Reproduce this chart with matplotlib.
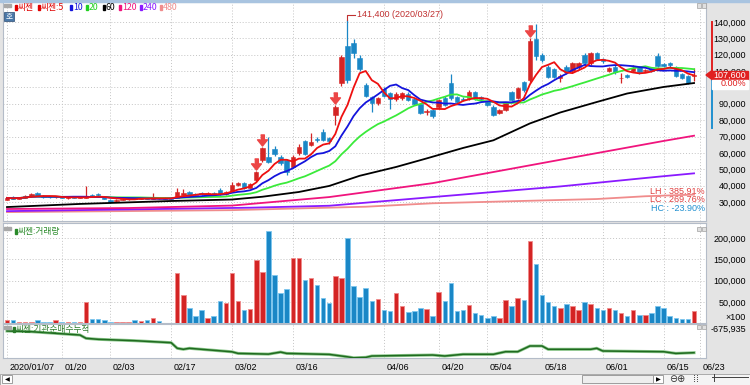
import numpy as np
import pandas as pd
import matplotlib
matplotlib.use('Agg')
import matplotlib.pyplot as plt
from matplotlib.patches import Rectangle, Polygon
from matplotlib.transforms import ScaledTranslation

W, H = 750, 385

# x axis: trading day index 0 = 2020/01/07
tick_idx = [0, 9, 17, 27, 37, 47, 62, 71, 79, 88, 98, 108, 114]
tick_lbl = ['2020/01/07', '01/20', '02/03', '02/17', '03/02', '03/16', '04/06',
            '04/20', '05/04', '05/18', '06/01', '06/15', '06/23']

opens = [31500, 33000, 32000, 32500, 33500, 35400, 33500, 33000, 32800, 33200,
         32500, 32900, 32600, 32600, 34000, 34800, 33500, 31500, 30400, 31200,
         32000, 32300, 32000, 32200, 31900, 32600, 32300, 32500, 32500, 34500,
         36000, 35000, 35200, 34200, 35500, 37500, 34800, 36500, 40500, 41500,
         38800, 43400, 55600, 57500, 62400, 57500, 55600, 51400, 59900, 67300,
         64800, 68500, 72800, 69100, 83200, 102700, 125300, 127200, 118000, 101500,
         94200, 90500, 99000, 96600, 92900, 93500, 96000, 92900, 89900, 84700,
         86200, 88000, 93500, 102700, 94200, 93000, 93500, 97200, 94200, 91100,
         88000, 84400, 86200, 97200, 93500, 103300, 104600, 129600, 119800, 112500,
         111300, 106000, 112500, 110000, 112500, 119800, 114900, 121000, 117400, 110000,
         112500, 105500, 107600, 110000, 112500, 110300, 111300, 119200, 114300, 114900,
         112500, 108200, 107000, 106800]
highs = [33000, 33500, 33200, 34000, 35500, 35800, 34000, 33500, 33600, 33500,
         33200, 33300, 33100, 40000, 34600, 35400, 33800, 31800, 31800, 32400,
         32600, 32800, 32500, 32600, 35500, 33000, 32800, 33000, 38500, 38000,
         36500, 35500, 35800, 35800, 36000, 38500, 36500, 42000, 42500, 42000,
         41500, 49000, 63500, 69700, 64500, 59000, 56000, 58500, 65500, 68000,
         72200, 69500, 74500, 69500, 89000, 120000, 141400, 129600, 120000, 103000,
         95000, 94000, 100000, 97500, 97000, 97500, 97000, 93500, 90500, 87000,
         87000, 93000, 94500, 108200, 95000, 94000, 98500, 98000, 95000, 92000,
         89000, 87000, 91000, 98000, 100500, 104000, 130000, 139000, 121000, 113500,
         112000, 108000, 113500, 115500, 115500, 121000, 121500, 121500, 118000, 112500,
         113500, 109000, 108500, 114000, 113000, 111500, 112000, 121000, 115000, 115500,
         113000, 109000, 107500, 112000]
lows = [31000, 31800, 31800, 32200, 33200, 33500, 32500, 32400, 32500, 32200,
        32000, 32300, 32200, 32400, 33000, 33600, 31600, 29500, 30200, 31000,
        31500, 31800, 31600, 31700, 31800, 32000, 31900, 31800, 32300, 34000,
        33800, 33800, 34200, 34000, 34600, 34200, 34500, 36200, 40000, 38000,
        38500, 42500, 54500, 53800, 58000, 52500, 46500, 50500, 59000, 58500,
        64000, 66500, 67000, 65500, 77000, 101000, 103000, 118000, 110000, 94000,
        85000, 89500, 94000, 86800, 92000, 92500, 91500, 89000, 83500, 83000,
        81500, 87000, 88500, 92500, 90000, 91500, 92500, 92500, 92000, 88500,
        82500, 83500, 85500, 91500, 93000, 97500, 103500, 117000, 115500, 105500,
        105500, 103300, 108500, 109000, 111500, 114000, 114000, 116500, 115000, 109500,
        108500, 103000, 106000, 109500, 108500, 109500, 109500, 112500, 112500, 112800,
        106500, 105000, 102000, 104000]
closes = [32500, 32000, 32800, 33600, 35000, 33800, 33000, 32800, 33200, 32500,
          32900, 32600, 32800, 33400, 33300, 34000, 32000, 30200, 31500, 32000,
          32300, 32000, 32200, 31900, 32600, 32300, 32100, 32000, 36000, 35300,
          34200, 34300, 34600, 35500, 34900, 34800, 36200, 40400, 41500, 38600,
          41000, 48300, 63000, 54500, 59300, 53800, 48300, 57500, 63600, 59300,
          66700, 67900, 67900, 67300, 88000, 118600, 104600, 121000, 111300, 94800,
          90500, 93500, 94800, 92900, 96000, 96600, 92300, 89900, 84400, 85300,
          82500, 92300, 89300, 93500, 91100, 92500, 97200, 93500, 92900, 89300,
          83200, 86200, 90500, 92300, 99700, 98400, 128400, 119200, 116800, 106400,
          106400, 106700, 109400, 114900, 114900, 114900, 121000, 117400, 116200, 111900,
          109400, 106000, 106400, 111900, 109400, 110900, 110000, 113100, 113100, 113700,
          107000, 105800, 102700, 107600]
# volume (x100 shares)
volume = [7000, 7000, 4000, 3000, 3000, 7000, 3000, 3000, 7000, 3000,
          3000, 3000, 3000, 50000, 10000, 9000, 8000, 4000, 3000, 3000,
          3000, 7000, 5000, 8000, 13000, 5000, 1000, 1000, 118000, 66000,
          37000, 18000, 32000, 13000, 18000, 53000, 47000, 118000, 53000, 32000,
          34000, 148000, 120000, 216000, 112000, 70000, 80000, 152000, 152000, 102000,
          106000, 89000, 59000, 47000, 110000, 105000, 201000, 87000, 62000, 83000,
          52000, 58000, 30000, 28000, 72000, 41000, 26000, 28000, 37000, 34000,
          18000, 73000, 52000, 94000, 28000, 30000, 44000, 25000, 19000, 13000,
          17000, 13000, 55000, 40000, 60000, 55000, 192000, 138000, 66000, 50000,
          40000, 35000, 45000, 40000, 30000, 50000, 45000, 35000, 30000, 35000,
          30000, 25000, 18000, 30000, 20000, 20000, 25000, 40000, 37000, 16000,
          12000, 9000, 11000, 28000]

# long moving averages (need history before the window), read at a few days
ma60_idx = [0, 12, 27, 37, 42, 48, 53, 58, 64, 69, 75, 80, 86, 91, 97, 102, 108, 113]
ma60_val = [26900, 28800, 30600, 31500, 33200, 36100, 39800, 46000, 51400, 56600,
            63000, 67700, 78000, 84700, 91100, 96300, 100300, 102700]
ma120_idx = [0, 20, 37, 53, 70, 91, 108, 113]
ma120_val = [25700, 26300, 27800, 33000, 41500, 55800, 67300, 70500]
ma240_idx = [0, 40, 53, 70, 91, 107, 113]
ma240_val = [24400, 26500, 27700, 33000, 39500, 45400, 47500]
ma480_idx = [0, 37, 59, 70, 97, 105, 113]
ma480_val = [23800, 25000, 27100, 29200, 31800, 33500, 34500]

# institutional net buying, cumulative
cum_idx = [0, 4, 12, 13, 15, 21, 24, 27, 28, 29, 30, 37, 38, 43, 45, 46, 53, 56, 57,
           59, 60, 70, 72, 75, 80, 82, 84, 86, 88, 89, 96, 97, 98, 108, 110, 113]
cum_val = [0, -21000, -125000, -228000, -259000, -302000, -333000, -364000, -538000,
           -570000, -539000, -648000, -698000, -720000, -657000, -698000, -729000,
           -804000, -835000, -822000, -779000, -748000, -779000, -726000, -726000,
           -645000, -645000, -467000, -467000, -570000, -570000, -539000, -623000,
           -645000, -698000, -675935]

signal_idx = [41, 42, 54, 86]
hi_idx, hi_val, hi_date = 56, 141400, '2020/03/27'
last_price = 107600

# ---------------------------------------------------------------
NUM = 'Liberation Sans'
NS = 6.5
KR = ['Noto Sans CJK KR', 'DejaVu Sans']

RED = '#d42424'
BLUE = '#1a87c6'
BG = '#e4e4e4'
GRID = '#c4c4c4'

o = np.array(opens); c = np.array(closes)
hh = np.array(highs); ll = np.array(lows)
idx = np.arange(len(o))
up = c >= o
col = np.where(up, RED, BLUE)
ser = pd.Series(closes, dtype=float)
ma5 = ser.rolling(5, min_periods=1).mean()
ma10 = ser.rolling(10, min_periods=1).mean()
ma20 = ser.rolling(20, min_periods=1).mean()

fig = plt.figure(figsize=(W / 100, H / 100), dpi=100)
fig.patch.set_facecolor(BG)


def box(x0, y0, x1, y1):
    return [x0 / W, 1 - y1 / H, (x1 - x0) / W, (y1 - y0) / H]


def ftext(x, y, s, **kw):
    fig.text(x / W, 1 - y / H, s, **kw)


def frect(x0, y0, x1, y1, **kw):
    fig.patches.append(Rectangle((x0 / W, 1 - y1 / H), (x1 - x0) / W, (y1 - y0) / H,
                                 transform=fig.transFigure, **kw))


X0 = (3 - 7) / 6.08
X1 = (706 - 7) / 6.08

ax = fig.add_axes(box(3, 2, 706, 221))
axv = fig.add_axes(box(3, 223, 706, 323.3))
axc = fig.add_axes(box(3, 324, 706, 358))

for a in (ax, axv, axc):
    a.set_facecolor('white')
    a.set_xlim(X0, X1)
    a.set_xticks(tick_idx)
    a.grid(True, ls=(0, (1, 2)), color=GRID, lw=0.7)
    a.set_axisbelow(True)
    for s in a.spines.values():
        s.set_color('#b4bcc8')
        s.set_linewidth(0.8)
    a.tick_params(length=0)

# ---- price panel
ax.set_ylim(18371, 152224)
pt = list(range(30000, 140001, 10000))
ax.set_yticks(pt)
ax.yaxis.tick_right()
ax.tick_params(axis='y', pad=28.8, labelsize=NS)
# 100,000 sits under the change-rate box on the original
ax.set_yticklabels(['' if v == 100000 else f'{v:,}' for v in pt], fontfamily=NUM)
for t in ax.get_yticklabels():
    t.set_ha('right')
ax.set_xticklabels([])

ax.vlines(idx, ll, hh, colors=col, lw=0.9, zorder=2)
body = np.maximum(np.abs(c - o), 350)
ax.bar(idx, body, bottom=np.minimum(o, c), width=0.72, color=col, edgecolor=col, lw=0.4, zorder=3)

ax.plot(ma480_idx, ma480_val, color='#f08c8c', lw=1.3, zorder=4)
ax.plot(ma240_idx, ma240_val, color='#8a1aff', lw=1.3, zorder=4)
ax.plot(ma120_idx, ma120_val, color='#f0147d', lw=1.3, zorder=4)
ax.plot(ma60_idx, ma60_val, color='black', lw=1.3, zorder=4)
ax.plot(idx, ma20, color='#3aea3a', lw=1.3, zorder=4)
ax.plot(idx, ma10, color='#1414dc', lw=1.3, zorder=4)
ax.plot(idx, ma5, color='#ee1010', lw=1.3, zorder=4)

# signal arrows
arrow = [(-0.3, 0.9), (0.3, 0.9), (0.3, 0.1), (0.8, 0.1), (0, -0.9), (-0.8, 0.1), (-0.3, 0.1)]
for i in signal_idx:
    ax.plot(i, highs[i] + 4500, marker=arrow, ms=8, color='#ec4646', mec='#ec4646', zorder=5)

# highest price mark
ax.plot([hi_idx, hi_idx, hi_idx + 1.3], [hi_val, hi_val + 3000, hi_val + 3000],
        color='#c03030', lw=0.8, zorder=5)
ax.text(hi_idx + 1.5, hi_val + 3000, f'{hi_val:,} ({hi_date})', color='#c03030',
        fontsize=NS, fontfamily=NUM, va='center', ha='left')

ax.text(114.8, 36700, 'LH : 385.91%', color='#e04040', fontsize=NS, fontfamily=NUM, ha='right', va='center')
ax.text(114.8, 31500, 'LC : 269.76%', color='#e04040', fontsize=NS, fontfamily=NUM, ha='right', va='center')
ax.text(114.8, 26300, 'HC : -23.90%', color='#2090d0', fontsize=NS, fontfamily=NUM, ha='right', va='center')

# ---- volume panel
axv.set_ylim(0, 235000)
vt = [50000, 100000, 150000, 200000]
axv.set_yticks(vt)
axv.yaxis.tick_right()
axv.tick_params(axis='y', pad=28.8, labelsize=NS)
axv.set_yticklabels([f'{v:,}' for v in vt], fontfamily=NUM)
for t in axv.get_yticklabels():
    t.set_ha('right')
axv.set_xticklabels([])
light = np.where(up, '#f08a8a', '#7cc6ee')
axv.bar(idx, volume, width=0.74, color=col, edgecolor=light, lw=0.6, zorder=3)

# ---- cumulative panel
axc.set_ylim(-841000, 218000)
axc.set_yticks([])
axc.plot(cum_idx, cum_val, color='#8cc88c', lw=2.2, zorder=3)
axc.plot(cum_idx, cum_val, color='#1f6a1f', lw=1.1, zorder=4)
axc.set_xticklabels(tick_lbl, fontfamily=NUM, fontsize=NS, ha='left')
axc.tick_params(axis='x', pad=3.4)
off = ScaledTranslation(2.5 / 100, 0, fig.dpi_scale_trans)
for t in axc.get_xticklabels():
    t.set_transform(t.get_transform() + off)

# ---- frame decorations
frect(0, 0, 750, 2, color='#a9c4e0', zorder=0)
# bottom tool bar
frect(0, 374, 750, 385, facecolor='#f4f4f4', edgecolor='#a0a0a0', lw=0.6)
frect(2, 375, 12, 383, facecolor='white', edgecolor='#909090', lw=0.6)
ftext(7, 379.5, '◀', fontsize=4.5, ha='center', va='center', color='black')
frect(582, 375, 653, 383, facecolor='#eeeeee', edgecolor='#909090', lw=0.6)
frect(653, 375, 663, 383, facecolor='white', edgecolor='#909090', lw=0.6)
ftext(658, 379.5, '▶', fontsize=4.5, ha='center', va='center', color='black')
ftext(677, 379.5, '⊖⊕', fontsize=7, ha='center', va='center', color='#303030')
ftext(696, 379.5, '⁞⁞', fontsize=7, ha='center', va='center', color='#303030')
fig.lines.append(plt.Line2D([712 / W, 748 / W], [1 - 377 / H] * 2, transform=fig.transFigure,
                            color='#404040', lw=0.7))
fig.lines.append(plt.Line2D([714 / W, 714 / W], [1 - 374 / H, 1 - 381 / H], transform=fig.transFigure,
                            color='#404040', lw=0.7))

# panel title rows
for yy in (5, 228, 327):
    frect(4, yy - 1.5, 11, yy + 2, color='#a8a8a8')
for yy in (5, 228, 326):
    for xx in (697, 702):
        frect(xx, yy - 1.5, xx + 4, yy + 2.5, facecolor='#e0e0e0', edgecolor='#a0a0a0', lw=0.5)

legend = [(15, '씨젠', '#e00000'), (38, '씨젠:5', '#e00000'),
          (70, '10', '#1414dc'), (86, '20', '#20d020'),
          (103, '60', 'black'), (119, '120', '#f0147d'),
          (140, '240', '#8a1aff'), (160, '480', '#f08c8c')]
for xx, s, tc in legend:
    frect(xx, 5, xx + 1.8, 10, color=tc)
    ftext(xx + 3, 7.8, s, fontsize=6.3, family=KR, color=tc, va='center', ha='left')

frect(4, 12, 14, 21, facecolor='#4a78a8', edgecolor='#2a4a70', lw=0.5)
ftext(9, 16.5, '호', fontsize=5.5, family=KR, color='white', ha='center', va='center')

frect(15, 229, 16.8, 234, color='#2a8a2a')
ftext(18, 231.5, '씨젠:거래량', fontsize=6.3, family=KR, color='#2a8a2a', va='center')
frect(13, 327, 14.8, 332, color='#2a7a2a')
ftext(16, 329.5, '씨젠:기관순매수누적', fontsize=6.3, family=KR, color='#2a7a2a', va='center')

# right scale extras
ftext(746, 317, '×100', fontsize=NS, fontfamily=NUM, ha='right', va='center')
ftext(746, 329.5, '-675,935', fontsize=NS, fontfamily=NUM, ha='right', va='center')

# period range bar and current price tag
xr = (712 - 7) / 6.08
ax.plot([xr, xr], [140000, last_price], color='#e02020', lw=1.4, clip_on=False)
ax.plot([xr, xr], [last_price, 75200], color='#2090d0', lw=1.4, clip_on=False)
fig.patches.append(Polygon([(706 / W, 1 - 75 / H), (712 / W, 1 - 70.5 / H), (712 / W, 1 - 79.5 / H)],
                           closed=True, transform=fig.transFigure, color='#e02020', zorder=5))
frect(712, 70.5, 748, 79.5, color='#e02020', zorder=5)
ftext(746, 75, f'{last_price:,}', fontsize=NS, fontfamily=NUM, color='white',
      ha='right', va='center', zorder=6)
frect(712, 79.5, 748, 89, color='white', zorder=5)
ftext(746, 84, '0.00%', fontsize=NS, fontfamily=NUM, color='#e02020', ha='right', va='center', zorder=6)

fig.savefig('out.png', dpi=100, facecolor=fig.get_facecolor())
